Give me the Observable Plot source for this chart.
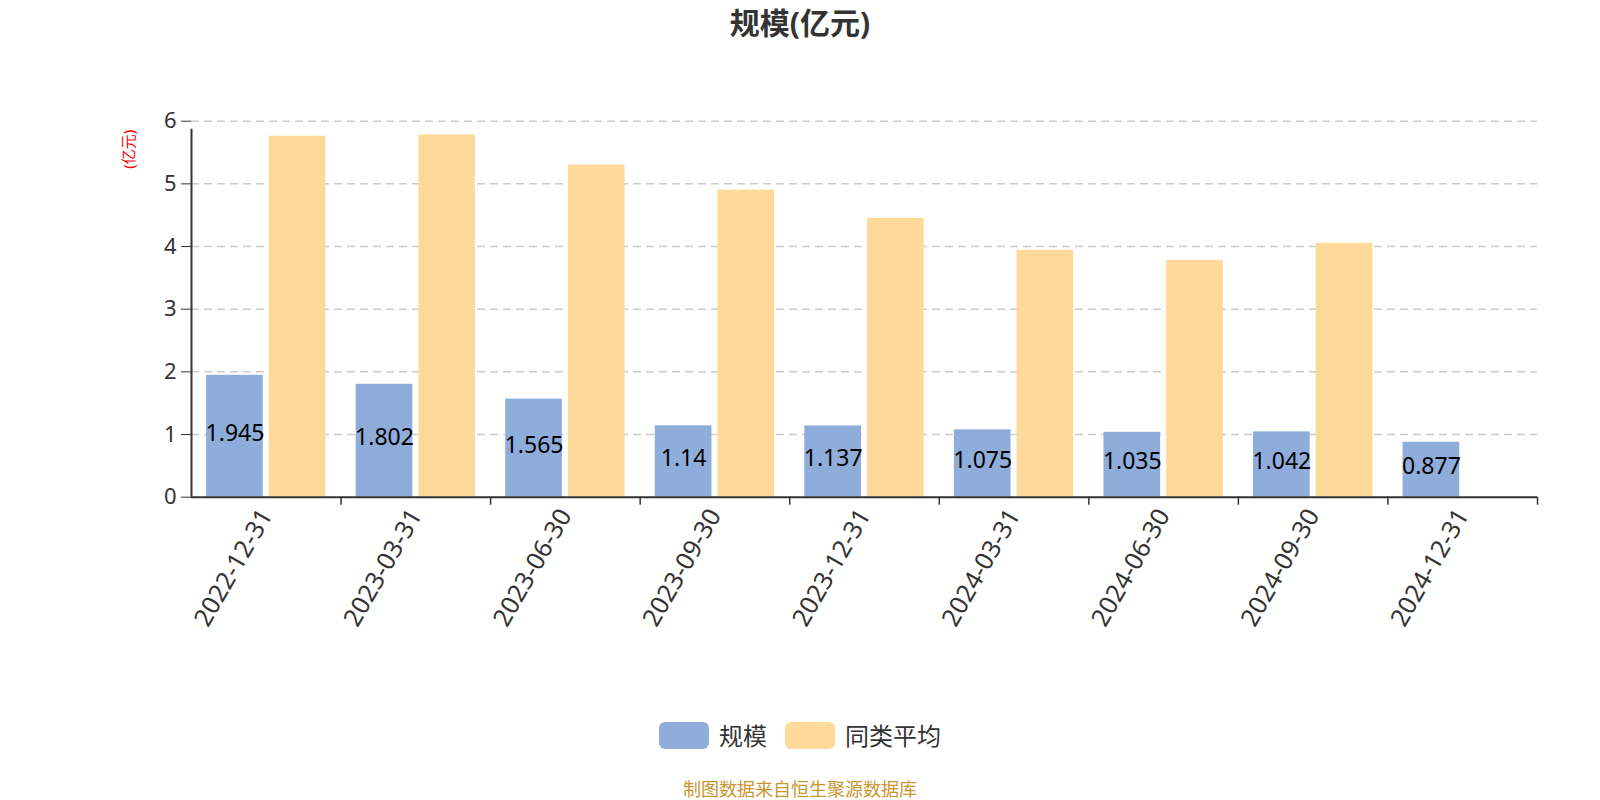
<!DOCTYPE html>
<html>
<head>
<meta charset="utf-8">
<script src="https://cdn.jsdelivr.net/npm/d3@7"></script>
<script src="https://cdn.jsdelivr.net/npm/@observablehq/plot@0.6"></script>
<style>
  body { margin: 0; background: #fff; font-family: "Noto Sans", "Noto Sans CJK SC", sans-serif; }
  #wrap { position: relative; width: 1600px; height: 800px; overflow: hidden; }
  #title { position: absolute; top: 0; left: 0; width: 1600px; text-align: center; font-size: 30px; font-weight: bold; color: #333; line-height: 46px; }
  #chart { position: absolute; top: 50px; left: 0; }
  #legend { position: absolute; top: 722px; left: 0; width: 1600px; height: 27px; display: flex; justify-content: center; align-items: center; }
  .item { display: flex; align-items: center; margin: 0 9px; }
  .sw { width: 50px; height: 27px; border-radius: 6px; }
  .lab { margin-left: 10px; font-size: 24px; color: #333; line-height: 27px; }
  #caption { position: absolute; top: 777px; left: 0; width: 1600px; text-align: center; font-size: 18px; line-height: 24px; color: #c9962e; }
</style>
</head>
<body>
<div id="wrap">
  <div id="title"></div>
  <div id="chart"></div>
  <div id="legend"></div>
  <div id="caption"></div>
</div>
<script>
// ---- data ----
const titleText = "规模(亿元)";
const unitLabel = "(亿元)";
const captionText = "制图数据来自恒生聚源数据库";
const seriesNames = ["规模", "同类平均"];
const seriesColors = ["#8eadda", "#fed99a"];
const dates = ["2022-12-31", "2023-03-31", "2023-06-30", "2023-09-30", "2023-12-31",
               "2024-03-31", "2024-06-30", "2024-09-30", "2024-12-31"];
const scaleValues = [1.945, 1.802, 1.565, 1.14, 1.137, 1.075, 1.035, 1.042, 0.877];
const peerAvg = [5.76, 5.78, 5.30, 4.90, 4.45, 3.94, 3.78, 4.05, null];
const yTicks = [0, 1, 2, 3, 4, 5, 6];

// ---- layout ----
const W = 1600, H = 640, mL = 191, mR = 63, mT = 70.7, mB = 193.3;
const step = (W - mL - mR) / dates.length;
const barW = step * 0.379, gap = step * 0.04;
const pad = (step - 2 * barW - gap) / 2;

const rowsA = dates.map((d, i) => ({date: d, value: scaleValues[i]}));
const rowsB = dates.map((d, i) => ({date: d, value: peerAvg[i]})).filter(r => r.value != null);

const plot = Plot.plot({
  width: W, height: H,
  marginLeft: mL, marginRight: mR, marginTop: mT, marginBottom: mB,
  x: {domain: dates, padding: 0, round: false},
  y: {domain: [0, 6]},
  style: {fontFamily: '"Noto Sans", "Noto Sans CJK SC", sans-serif', background: "transparent"},
  marks: [
    Plot.ruleY(yTicks.filter(t => t > 0), {stroke: "#ccc", strokeWidth: 1.5, strokeDasharray: "8,5"}),
    Plot.barY(rowsA, {x: "date", y: "value", fill: seriesColors[0], insetLeft: pad, insetRight: step - pad - barW}),
    Plot.barY(rowsB, {x: "date", y: "value", fill: seriesColors[1], insetLeft: pad + barW + gap, insetRight: pad}),
    Plot.ruleY([0], {stroke: "#333", strokeWidth: 2}),
    Plot.ruleX(dates.slice(1), {x: d => d, y1: 0, y2: 0, dx: -step / 2, insetBottom: -8, stroke: "#333", strokeWidth: 1.5}),
    Plot.ruleX(dates.slice(-1), {x: d => d, y1: 0, y2: 0, dx: step / 2, insetBottom: -8, stroke: "#333", strokeWidth: 1.5}),
    Plot.ruleX(dates.slice(0, 1), {x: d => d, y1: 0, y2: 6, dx: -step / 2, insetBottom: -8, stroke: "#333", strokeWidth: 2}),
    Plot.axisY({ticks: yTicks, tickSize: 10, tickPadding: 5, fontSize: 22, color: "#333", label: null, tickFormat: d => String(d)}),
    Plot.axisX({tickSize: 0, tickRotate: -60, tickPadding: 14, fontSize: 25, color: "#333", label: null}),
    Plot.text(rowsA, {x: "date", y: d => d.value / 2, text: d => String(d.value), dx: pad + barW / 2 - step / 2, dy: -3, fontSize: 23, fill: "#000"}),
    Plot.text([unitLabel], {frameAnchor: "top-left", dx: -68, dy: 28, rotate: -90, fill: "red", fontSize: 15, textAnchor: "middle"})
  ]
});
document.getElementById("chart").appendChild(plot);

document.getElementById("title").textContent = titleText;
document.getElementById("caption").textContent = captionText;
const legend = document.getElementById("legend");
seriesNames.forEach((name, i) => {
  const item = document.createElement("div");
  item.className = "item";
  const sw = document.createElement("div");
  sw.className = "sw";
  sw.style.background = seriesColors[i];
  const lab = document.createElement("span");
  lab.className = "lab";
  lab.textContent = name;
  item.appendChild(sw);
  item.appendChild(lab);
  legend.appendChild(item);
});
</script>
</body>
</html>
